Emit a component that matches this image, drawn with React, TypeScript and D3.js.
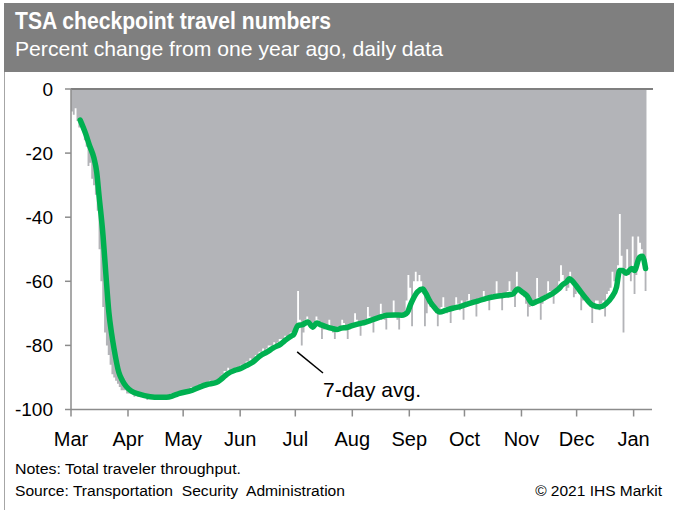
import React from "react";
import * as d3 from "d3";

// daily series, percent change vs one year ago (2020-03-01 .. 2021-01-08)
const START = new Date(2020, 2, 1);
const END = new Date(2021, 0, 11);

const mar = [-7, -8, -6, -10, -12, -10, -13, -16, -18, -24, -23, -28, -30, -33, -38, -50, -60, -68, -76, -80, -83, -86, -89, -90, -91, -92, -93, -94, -94, -94, -95];
const apr = [-95, -95, -95, -96, -95, -96, -96, -96, -96, -96, -97, -96, -96, -96, -96, -96, -97, -96, -96, -96, -96, -96, -96, -95, -96, -95, -95, -95, -95, -94];
const may = [-94, -94, -95, -94, -93, -94, -93, -93, -93, -92, -93, -92, -92, -92, -91, -92, -91, -91, -91, -91, -90, -89, -88, -88, -87, -89, -88, -88, -87, -87, -87];
const jun = [-86, -86, -86, -85, -85, -84, -85, -84, -83, -83, -82, -82, -81, -82, -81, -80, -80, -80, -79, -80, -79, -78, -78, -78, -77, -78, -77, -76, -76, -75];
const jul = [-74, -63, -72, -80, -76, -72, -71, -72, -73, -75, -74, -71, -72, -74, -78, -75, -74, -74, -72, -74, -76, -78, -75, -74, -74, -72, -73, -74, -78, -75, -74];
const aug = [-73, -70, -72, -74, -77, -73, -73, -72, -68, -71, -73, -76, -72, -71, -71, -67, -70, -72, -75, -71, -70, -70, -66, -70, -72, -75, -71, -70, -70, -66, -58];
const sep = [-62, -74, -60, -57, -60, -58, -60, -64, -74, -70, -67, -68, -66, -68, -70, -74, -70, -68, -65, -68, -70, -69, -73, -69, -68, -65, -67, -69, -66, -72];
const oct = [-67, -66, -64, -66, -67, -67, -71, -67, -66, -65, -63, -65, -66, -69, -65, -64, -64, -60, -64, -65, -69, -65, -64, -63, -60, -63, -64, -68, -57, -62, -63];
const nov = [-64, -65, -67, -71, -68, -66, -67, -66, -59, -65, -72, -67, -66, -64, -60, -63, -64, -67, -63, -62, -60, -55, -58, -60, -63, -62, -57, -60, -65, -64];
const dec = [-62, -64, -69, -66, -65, -66, -67, -68, -73, -67, -66, -66, -69, -67, -66, -71, -64, -63, -62, -57, -60, -63, -55, -39, -52, -76, -56, -50, -58, -60, -46];
const jan = [-64, -58, -46, -48, -50, -52, -63];

// 7-day average, [days after Mar 1, value]
const avgPoints: [number, number][] = [
  [5, -9.7], [8, -14], [10, -17.5], [12.5, -21.6], [14, -26], [15.2, -33], [17.4, -45.6], [19, -58],
  [20.6, -69.7], [22, -76], [23.4, -81], [26, -88.4], [28, -91], [30, -92.8], [33, -94.3], [37, -95.2],
  [43, -96], [48, -96.2], [52, -96.2], [56, -95.6], [59, -95], [66, -94], [70, -93], [74, -92.2],
  [79, -91.6], [82, -90.4], [85, -88.9], [89, -87.8], [92, -87.3], [95, -86.4], [99, -85.2], [103, -83.2],
  [106.5, -82.1], [110, -80.8], [114, -79.6], [117, -78.2], [120, -77], [121, -76.7], [123.4, -73.8],
  [126, -73.5], [128.8, -72.7], [131.5, -74.3], [133.7, -73], [136, -73.6], [139, -74.2], [142, -74.7],
  [144.6, -75], [147, -74.6], [150, -74.4], [153, -73.8], [157, -73.2], [160, -72.8], [164, -72],
  [168, -71.2], [171.7, -70.6], [176, -70.5], [180, -70.6], [183, -69.7], [184.5, -67.5], [186, -65.6],
  [188.6, -63.2], [191.3, -62.4], [193, -63.8], [195, -66], [198, -68.4], [200.5, -69.6], [204, -69],
  [207.6, -68.4], [212, -67.8], [216.8, -66.9], [221, -66.2], [226, -65.3], [230, -64.8], [234.8, -64.4],
  [240.2, -64], [243, -62.4], [245, -63.2], [247.8, -64.4], [251, -66.9], [253, -66.4], [255, -65.9],
  [258, -65], [262, -63.8], [265, -62.5], [267.5, -61], [269.6, -60.2], [271, -59.2], [272.5, -59.8],
  [274, -60.8], [276.6, -62.8], [280, -65.3], [283.7, -67.5], [287.5, -68], [291, -67], [294, -65],
  [296.7, -61.8], [298.4, -56.6], [300, -56.6], [302, -57.5], [304.9, -56], [306.5, -56.6],
  [309.2, -52.5], [310.8, -52.2], [312.5, -56],
];

const monthLabels = ["Mar", "Apr", "May", "Jun", "Jul", "Aug", "Sep", "Oct", "Nov", "Dec", "Jan"];
const yTicks = [0, -20, -40, -60, -80, -100];

const daily = [...mar, ...apr, ...may, ...jun, ...jul, ...aug, ...sep, ...oct, ...nov, ...dec, ...jan];

const FONT = "'Liberation Sans', Arial, sans-serif";
const dayToDate = (d: number) => new Date(START.getTime() + d * 864e5);

export default function App() {
  const x = d3.scaleTime().domain([START, END]).range([71, 652]);
  const y = d3.scaleLinear().domain([-100, 0]).range([409.5, 89]);

  const steps: [number, number][] = daily.map((v, i) => [i, v]);
  steps.push([daily.length, daily[daily.length - 1]]);

  const area = d3
    .area<[number, number]>()
    .x((d) => x(dayToDate(d[0])))
    .y0(y(0))
    .y1((d) => y(d[1]))
    .curve(d3.curveStepAfter);

  const avgLine = d3
    .line<[number, number]>()
    .x((d) => x(dayToDate(d[0])))
    .y((d) => y(d[1]))
    .curve(d3.curveMonotoneX);

  const monthTicks = d3.timeMonth.range(START, END);

  return (
    <svg width={674} height={510} style={{ position: "absolute", left: 0, top: 0, background: "#fff" }} fontFamily={FONT}>
      {/* header */}
      <rect x={4} y={3} width={670} height={69} fill="#7f7f7f" />
      <line x1={4.5} y1={72} x2={4.5} y2={510} stroke="#a6a6a6" strokeWidth={1} />
      <text x={15} y={29} fill="#fff" fontSize={24} fontWeight="bold" textLength={316} lengthAdjust="spacingAndGlyphs">
        TSA checkpoint travel numbers
      </text>
      <text x={15} y={56} fill="#fff" fontSize={21} textLength={428} lengthAdjust="spacingAndGlyphs">
        Percent change from one year ago, daily data
      </text>

      {/* daily bars */}
      <path d={area(steps) ?? ""} fill="#b3b4b8" />

      {/* zero line */}
      <line x1={71} x2={653} y1={y(0)} y2={y(0)} stroke="#7f7f7f" strokeWidth={2} />

      {/* y axis */}
      <line x1={71} x2={71} y1={y(0)} y2={y(-100)} stroke="#8c8c8c" strokeWidth={1.5} />
      {yTicks.map((t) => (
        <g key={t}>
          <line x1={65} x2={71} y1={y(t)} y2={y(t)} stroke="#8c8c8c" strokeWidth={1.5} />
          <text x={53} y={y(t)} dy="0.35em" textAnchor="end" fontSize={19} fill="#000">
            {t}
          </text>
        </g>
      ))}

      {/* x axis */}
      <line x1={71} x2={652} y1={y(-100)} y2={y(-100)} stroke="#8c8c8c" strokeWidth={1.5} />
      {monthTicks.map((m, i) => (
        <g key={i}>
          <line x1={x(m)} x2={x(m)} y1={y(-100)} y2={y(-100) + 7} stroke="#8c8c8c" strokeWidth={1.5} />
          <text x={x(m)} y={446} textAnchor="middle" fontSize={20} fill="#000">
            {monthLabels[i]}
          </text>
        </g>
      ))}

      {/* 7-day average */}
      <path d={avgLine(avgPoints) ?? ""} fill="none" stroke="#00b050" strokeWidth={5.5} strokeLinejoin="round" strokeLinecap="round" />

      {/* annotation */}
      <line x1={x(dayToDate(123))} y1={y(-82)} x2={323} y2={373} stroke="#000" strokeWidth={1.5} />
      <text x={323} y={397} fontSize={21} fill="#000">
        7-day avg.
      </text>

      {/* footer */}
      <text x={15} y={474} fontSize={15.5} fill="#000" textLength={226} lengthAdjust="spacingAndGlyphs">
        Notes: Total traveler throughput.
      </text>
      <text x={15} y={496} fontSize={15.5} fill="#000" style={{ whiteSpace: "pre" }} textLength={330} lengthAdjust="spacingAndGlyphs">
        Source: Transportation  Security  Administration
      </text>
      <text x={662} y={496} fontSize={15.5} fill="#000" textAnchor="end">
        © 2021 IHS Markit
      </text>
    </svg>
  );
}
